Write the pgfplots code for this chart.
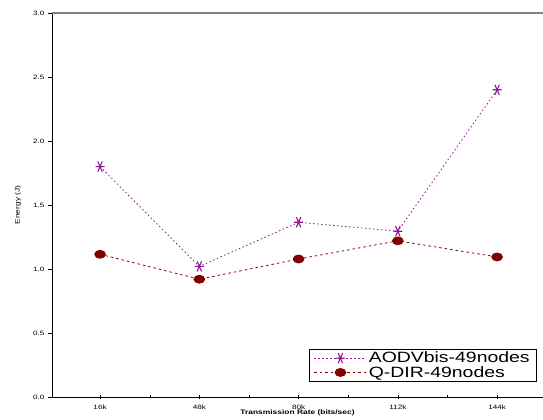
\documentclass[border=0pt]{standalone}
\usepackage{fontspec}
\setmainfont[FakeStretch=1.3]{Liberation Sans}
\usepackage{pgfplots}
\pgfplotsset{compat=1.18}
\usetikzlibrary{calc}
\definecolor{aodv}{RGB}{145,20,150}
\definecolor{qdir}{RGB}{130,0,0}
\begin{document}
\begin{tikzpicture}
\begin{axis}[
    name=ax,
    scale only axis,
    width=491bp, height=384bp,
    xmin=0.5, xmax=158.8,
    ymin=0, ymax=3,
    axis x line=bottom, axis y line=left,
    x axis line style={-}, y axis line style={-},
    xtick={16,48,80,112,144},
    xticklabels={16k,48k,80k,112k,144k},
    minor xtick={32,64,96,128},
    ytick={0,0.5,...,3},
    yticklabel style={/pgf/number format/.cd,fixed,fixed zerofill,precision=1},
    /pgf/number format/assume math mode=true,
    ticklabel style={font=\fontsize{6.3}{7}\selectfont},
    tick align=outside,
    tick style={black},
    x tick style={yshift=2bp},
    major tick length=4bp, minor tick length=3bp,
    xlabel={\textbf{Transmission Rate (bits/sec)}},
    ylabel={Energy (J)},
    xlabel style={font=\fontsize{6.5}{7}\selectfont, at={(axis description cs:0.5,0)}, anchor=center, yshift=-16bp},
    ylabel style={font=\fontsize{6.5}{7}\selectfont, at={(axis description cs:0,0.5)}, anchor=center, yshift=34bp},
    clip=false,
    legend style={at={(0.988,0.039)}, anchor=south east, font=\fontsize{15}{12}\selectfont,
        draw=black, line width=0.8pt, inner xsep=5bp, inner ysep=1pt, row sep=-2pt},
    legend cell align=left,
    legend image code/.code={\draw[mark repeat=2,mark phase=2,#1] plot coordinates {(0bp,0bp) (26bp,0bp) (52bp,0bp)};},
]
\draw[gray, line width=1.5bp] (rel axis cs:0,1) -- (rel axis cs:1,1);
\addplot[aodv, line width=0.8bp, dash pattern=on 1.5bp off 2.5bp, mark=asterisk,
    mark size=4.5bp, mark options={solid, line width=1.1bp, rotate=90, xscale=1.3}]
    coordinates {(16,1.80) (48,1.02) (80,1.365) (112,1.295) (144,2.40)};
\addplot[qdir, line width=0.8bp, dash pattern=on 2.5bp off 3bp, mark=*,
    mark size=4bp, mark options={solid, xscale=1.35}]
    coordinates {(16,1.115) (48,0.92) (80,1.078) (112,1.22) (144,1.094)};
\legend{AODVbis-49nodes, Q-DIR-49nodes}
\end{axis}
\pgfresetboundingbox
\path[use as bounding box] ($(ax.south west)+(-52bp,-23bp)$) rectangle ($(ax.north east)+(0bp,13bp)$);
\end{tikzpicture}
\end{document}
